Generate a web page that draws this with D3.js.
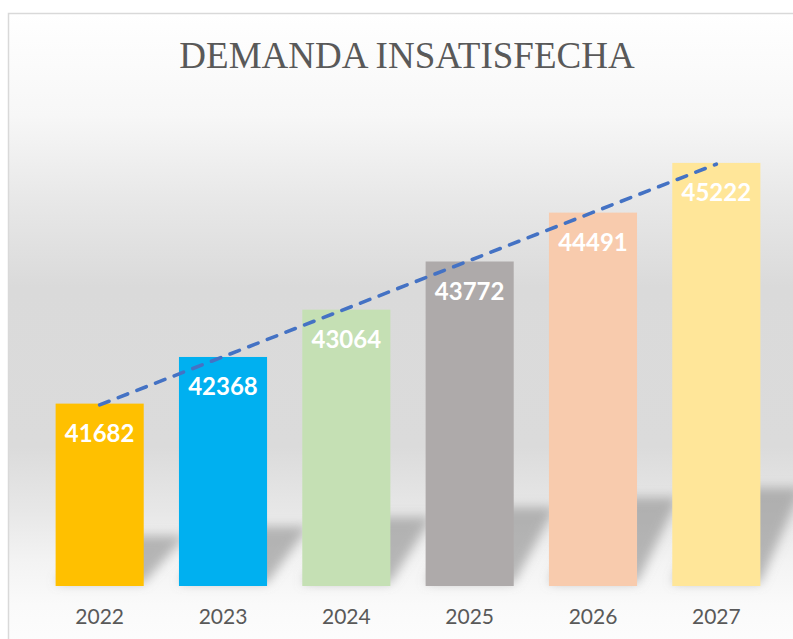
<!DOCTYPE html>
<html>
<head>
<meta charset="utf-8">
<script src="https://cdn.jsdelivr.net/npm/d3@7/dist/d3.min.js"></script>
<style>
  html, body { margin: 0; padding: 0; background: #fff; }
  svg { display: block; }
</style>
</head>
<body>
<div id="chart"></div>
<script>
'use strict';

var years = ['2022', '2023', '2024', '2025', '2026', '2027'];
var demanda = [41682, 42368, 43064, 43772, 44491, 45222];
var barColors = ['#FFC000', '#00B0F0', '#C5E0B4', '#AEAAAA', '#F8CBAD', '#FFE699'];
var titleText = 'DEMANDA INSATISFECHA';

var width = 793, height = 639;
var plot = {left: 38, right: 778, top: 110, bottom: 586};

var svg = d3.select('#chart').append('svg')
  .attr('width', width).attr('height', height);

var defs = svg.append('defs');
var bg = defs.append('linearGradient').attr('id', 'bg-grad')
  .attr('gradientUnits', 'userSpaceOnUse')
  .attr('x1', 0).attr('y1', 14).attr('x2', 0).attr('y2', 650);
[[0, '#FFFFFF'], [0.16, '#F7F7F7'], [0.29, '#E8E8E8'], [0.43, '#DADADA'],
 [0.68, '#DBDBDB'], [0.78, '#E7E7E7'], [0.86, '#F3F3F3'], [0.93, '#FAFAFA'], [1, '#FDFDFD']]
  .forEach(function(s) {
    bg.append('stop').attr('offset', s[0]).attr('stop-color', s[1]);
  });

defs.append('filter').attr('id', 'shadow-blur')
  .attr('x', '-30%').attr('y', '-30%').attr('width', '160%').attr('height', '160%')
  .append('feGaussianBlur').attr('stdDeviation', 5.5);

// chart box
svg.append('rect')
  .attr('x', 8.5).attr('y', 13.5).attr('width', 800).attr('height', 640)
  .attr('fill', 'url(#bg-grad)').attr('stroke', '#D9D9D9').attr('stroke-width', 1.5);

svg.append('text')
  .attr('x', 407).attr('y', 68)
  .attr('text-anchor', 'middle')
  .attr('font-family', '"Liberation Serif", "Times New Roman", serif')
  .attr('font-size', 37)
  .attr('fill', '#595959')
  .text(titleText);

var x = d3.scaleBand().domain(years).range([plot.left, plot.right])
  .paddingInner(0.2857).paddingOuter(0.1429);
var y = d3.scaleLinear().domain([39000, 46000]).range([plot.bottom, plot.top]);

var data = years.map(function(yr, i) {
  return {year: yr, value: demanda[i], color: barColors[i]};
});

// soft perspective shadow behind each bar
var base = y(39000);
svg.append('g').attr('filter', 'url(#shadow-blur)')
  .selectAll('path').data(data).enter().append('path')
  .attr('d', function(d) {
    var x0 = x(d.year), x1 = x0 + x.bandwidth();
    var hs = (base - y(d.value)) * 0.2 + 14;
    var s = 42;
    return 'M' + x0 + ',' + (base - 3) + 'L' + x1 + ',' + (base - 3) +
      'L' + (x1 + s) + ',' + (base - hs) + 'L' + (x0 + s) + ',' + (base - hs) + 'Z';
  })
  .attr('fill', '#8C8C8C').attr('opacity', 0.6);

svg.append('g').selectAll('rect').data(data).enter().append('rect')
  .attr('x', function(d) { return x(d.year); })
  .attr('y', function(d) { return y(d.value); })
  .attr('width', x.bandwidth())
  .attr('height', function(d) { return base - y(d.value); })
  .attr('fill', function(d) { return d.color; });

// linear trendline (least squares over the bars)
var n = demanda.length;
var mx = (n + 1) / 2, my = d3.mean(demanda);
var sxy = d3.sum(demanda, function(v, i) { return (i + 1 - mx) * (v - my); });
var sxx = d3.sum(demanda, function(v, i) { return (i + 1 - mx) * (i + 1 - mx); });
var slope = sxy / sxx;
var trend = [years[0], years[n - 1]].map(function(yr) {
  var k = years.indexOf(yr) + 1;
  return [x(yr) + x.bandwidth() / 2, y(my + slope * (k - mx))];
});

svg.append('path')
  .attr('d', d3.line()(trend))
  .attr('fill', 'none')
  .attr('stroke', '#4472C4')
  .attr('stroke-width', 3.6)
  .attr('stroke-dasharray', '10,10')
  .attr('stroke-linecap', 'round');

svg.append('g').selectAll('text').data(data).enter().append('text')
  .attr('x', function(d) { return x(d.year) + x.bandwidth() / 2; })
  .attr('y', function(d) { return y(d.value) + 38; })
  .attr('text-anchor', 'middle')
  .attr('font-family', 'Lato, "Open Sans", sans-serif')
  .attr('font-weight', 'bold')
  .attr('font-size', 24)
  .attr('fill', '#FFFFFF')
  .text(function(d) { return d.value; });

var xAxis = svg.append('g')
  .attr('transform', 'translate(0,' + base + ')')
  .call(d3.axisBottom(x).tickSize(0).tickPadding(0));
xAxis.select('.domain').remove();
xAxis.selectAll('text')
  .attr('y', 38)
  .attr('dy', null)
  .attr('font-family', 'Lato, "Open Sans", sans-serif')
  .attr('font-size', 21)
  .attr('fill', '#595959');
</script>
</body>
</html>
